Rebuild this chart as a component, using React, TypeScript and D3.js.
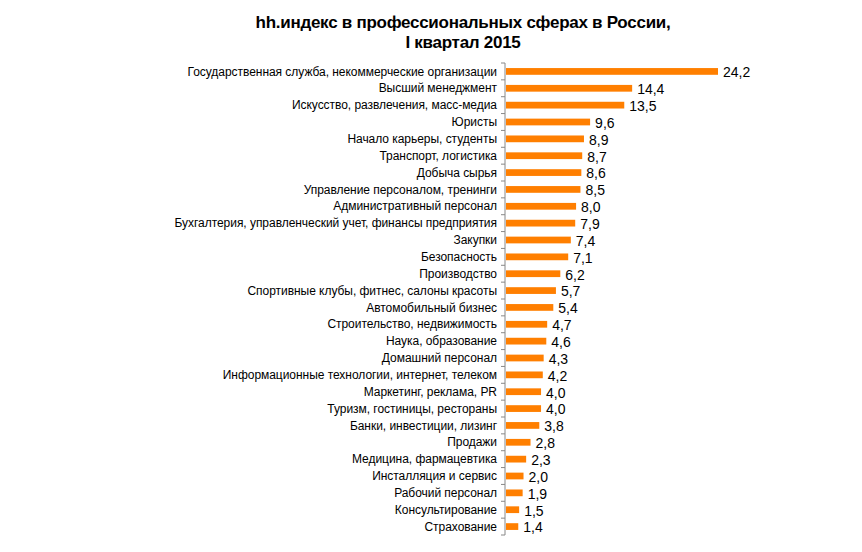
import React from "react";
import * as d3 from "d3";

const categories = [
  "Государственная служба, некоммерческие организации",
  "Высший менеджмент",
  "Искусство, развлечения, масс-медиа",
  "Юристы",
  "Начало карьеры, студенты",
  "Транспорт, логистика",
  "Добыча сырья",
  "Управление персоналом, тренинги",
  "Административный персонал",
  "Бухгалтерия, управленческий учет, финансы предприятия",
  "Закупки",
  "Безопасность",
  "Производство",
  "Спортивные клубы, фитнес, салоны красоты",
  "Автомобильный бизнес",
  "Строительство, недвижимость",
  "Наука, образование",
  "Домашний персонал",
  "Информационные технологии, интернет, телеком",
  "Маркетинг, реклама, PR",
  "Туризм, гостиницы, рестораны",
  "Банки, инвестиции, лизинг",
  "Продажи",
  "Медицина, фармацевтика",
  "Инсталляция и сервис",
  "Рабочий персонал",
  "Консультирование",
  "Страхование",
];

const values = [24.2, 14.4, 13.5, 9.6, 8.9, 8.7, 8.6, 8.5, 8.0, 7.9, 7.4, 7.1, 6.2, 5.7, 5.4, 4.7, 4.6, 4.3, 4.2, 4.0, 4.0, 3.8, 2.8, 2.3, 2.0, 1.9, 1.5, 1.4];

const titleLines = ["hh.индекс в профессиональных сферах в России,", "I квартал 2015"];

export default function App() {
  const W = 862, H = 552;
  const x0 = 505, top = 63, bottom = 535;
  const x = d3.scaleLinear().domain([0, 24.2]).range([x0 + 1, 718]);
  const y = d3.scaleBand<string>().domain(categories).range([top, bottom]).paddingInner(0.6).paddingOuter(0.3);
  const yb = d3.scaleBand<string>().domain(categories).range([top, bottom]);
  const fmt = (v: number) => v.toFixed(1).replace(".", ",");
  const font = "'Liberation Sans', Arial, sans-serif";
  return (
    <svg width={W} height={H} style={{ position: "absolute", left: 0, top: 0, background: "#fff" }} fontFamily={font}>
      {titleLines.map((t, i) => (
        <text key={i} x={463} y={28 + i * 20} textAnchor="middle" fontSize={17} fontWeight="bold" letterSpacing={-0.27} fill="#000">{t}</text>
      ))}
      {categories.map((c, i) => (
        <g key={c}>
          <rect x={x(0)} y={y(c)!} width={x(values[i]) - x(0)} height={y.bandwidth()} fill="#FF7F00" />
          <text x={497} y={y(c)! + y.bandwidth() / 2} dy="0.35em" textAnchor="end" fontSize={12} letterSpacing={-0.04} fill="#000">{c}</text>
          <text x={x(values[i]) + 5} y={y(c)! + y.bandwidth() / 2 + 1} dy="0.35em" fontSize={14} fill="#000">{fmt(values[i])}</text>
        </g>
      ))}
      <line x1={x0} x2={x0} y1={top} y2={bottom} stroke="#888" strokeWidth={1} />
      {[...categories.map((c) => yb(c)!), bottom].map((t, i) => (
        <line key={i} x1={x0 - 4} x2={x0} y1={t} y2={t} stroke="#888" strokeWidth={1} />
      ))}
    </svg>
  );
}
